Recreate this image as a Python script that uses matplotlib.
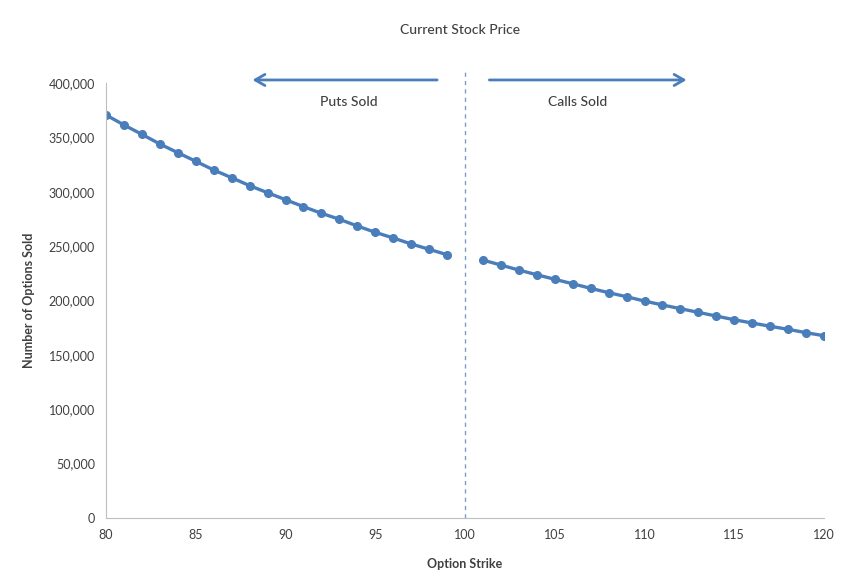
import matplotlib
matplotlib.use('Agg')
import matplotlib.pyplot as plt
from matplotlib.ticker import FuncFormatter

#######################################################################
#                                Data                                 #
#######################################################################
put_strikes = list(range(80, 100))
put_sold = [370600, 361400, 352800, 343900, 335900, 328000, 320000, 312900,
            305600, 299100, 292700, 286300, 280200, 274700, 268500, 262700,
            257500, 252000, 247100, 242100]
call_strikes = list(range(101, 121))
call_sold = [237200, 232600, 228000, 223700, 219500, 215400, 211200, 207200,
             203500, 199500, 195900, 192500, 189100, 185700, 182300, 179300,
             176300, 173500, 170400, 167600]
current_price = 100
x_ticks = list(range(80, 121, 5))
y_ticks = list(range(0, 400001, 50000))

#######################################################################
#                                Plot                                 #
#######################################################################
plt.rcParams['font.family'] = ['Lato', 'DejaVu Sans']
blue = '#4a7ebb'
grey = '#404040'

fig = plt.figure(figsize=(8.49, 5.85), dpi=100)
ax = fig.add_axes([0.1249, 0.1145, 0.8457, 0.7436])

ax.plot(put_strikes, put_sold, '-o', color=blue, lw=2.4, ms=5.5)
ax.plot(call_strikes, call_sold, '-o', color=blue, lw=2.4, ms=5.5)

# current stock price line, runs a bit above the plot area
ax.plot([current_price, current_price], [0, 412000], ls=(0, (3, 3)),
        color='#7a9cc6', lw=1.0, clip_on=False)

ax.set_xlim(80, 120)
ax.set_ylim(0, 400000)
ax.set_xticks(x_ticks)
ax.set_yticks(y_ticks)
ax.yaxis.set_major_formatter(FuncFormatter(lambda v, p: f'{int(v):,}'))
ax.tick_params(length=0, labelsize=9, labelcolor=grey, pad=8)

for side in ['top', 'right']:
    ax.spines[side].set_visible(False)
for side in ['left', 'bottom']:
    ax.spines[side].set_color('#bfbfbf')

ax.set_xlabel('Option Strike', fontsize=9, fontweight='bold', color=grey, labelpad=12)
ax.set_ylabel('Number of Options Sold', fontsize=9, fontweight='bold', color=grey, labelpad=10)

# arrows and labels
arrow_kw = dict(arrowstyle='->,head_width=0.4,head_length=0.7', color=blue, lw=2)
ax.annotate('', xy=(88.0, 402800), xytext=(98.6, 402800), arrowprops=arrow_kw,
            annotation_clip=False)
ax.annotate('', xy=(112.5, 402800), xytext=(101.2, 402800), arrowprops=arrow_kw,
            annotation_clip=False)
ax.text(93.5, 382500, 'Puts Sold', ha='center', va='center', fontsize=10,
        color=grey, fontweight='medium')
ax.text(106.3, 382500, 'Calls Sold', ha='center', va='center', fontsize=10,
        color=grey, fontweight='medium')

fig.text(460 / 849, 1 - 30 / 585, 'Current Stock Price', ha='center', va='center',
         fontsize=10, color=grey, fontweight='medium')

fig.savefig('out.png', dpi=100)
